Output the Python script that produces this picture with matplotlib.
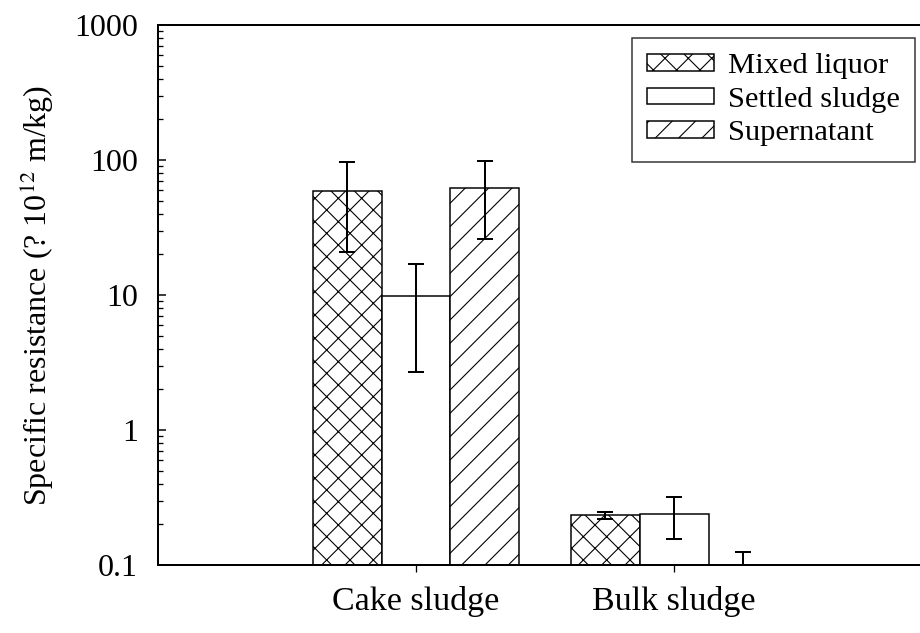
import matplotlib.pyplot as plt
import numpy as np

# data
groups = ["Cake sludge", "Bulk sludge"]
series = ["Mixed liquor", "Settled sludge", "Supernatant"]
mixed_liquor = [58.5, 0.234]
mixed_liquor_err = [37.8, 0.013]
settled_sludge = [9.9, 0.239]
settled_sludge_err = [7.2, 0.082]
supernatant = [62.0, 0.09]
supernatant_err = [36.0, 0.035]

# rendered at dpi 70 so the hatch spacing comes out like the reference;
# sizes below are given in pixels and converted to points
DPI = 70


def pt(px):
    return px * 72 / DPI


plt.rcParams["font.family"] = ["Liberation Serif", "DejaVu Serif"]
plt.rcParams["mathtext.fontset"] = "stix"
plt.rcParams["hatch.linewidth"] = pt(1.1)

fig = plt.figure(figsize=(920 / DPI, 633 / DPI), dpi=DPI)
ax = fig.add_axes([158 / 920, 68 / 633, 762 / 920, 540 / 633])

x = np.arange(len(groups))
w = 0.267
values = [mixed_liquor, settled_sludge, supernatant]
errors = [mixed_liquor_err, settled_sludge_err, supernatant_err]
hatches = ["x", "", "/"]

for i, (name, vals, errs, h) in enumerate(zip(series, values, errors, hatches)):
    pos = x + (i - 1) * w
    ax.bar(pos, vals, w, color="white", edgecolor="black", hatch=h,
           linewidth=pt(1.5), label=name, zorder=2)
    ax.errorbar(pos, vals, yerr=errs, fmt="none", ecolor="black",
                elinewidth=pt(2), capsize=pt(8.5), capthick=pt(2), zorder=3)

ax.set_yscale("log")
ax.set_ylim(0.1, 1000)
ax.set_xlim(-1, 1.953)
ax.set_yticks([0.1, 1, 10, 100, 1000])
ax.set_yticklabels(["0.1", "1", "10", "100", "1000"])
ax.set_xticks(x)
ax.set_xticklabels(groups)

ax.tick_params(axis="y", which="major", direction="in", length=pt(8),
               width=pt(1.5), labelsize=pt(32), pad=pt(20))
ax.tick_params(axis="y", which="minor", direction="in", length=pt(5),
               width=pt(1.3))
ax.tick_params(axis="x", direction="out", length=pt(7), width=pt(1.3),
               labelsize=pt(34), pad=pt(14))

for s in ["left", "top", "bottom"]:
    ax.spines[s].set_linewidth(pt(2))
ax.spines["right"].set_visible(False)

ax.set_ylabel("Specific resistance (? 10$^{12}$ m/kg)", fontsize=pt(32),
              labelpad=pt(18))

leg = ax.legend(loc="upper right", bbox_to_anchor=(0.9934, 0.976),
                fontsize=pt(30.5), frameon=True, fancybox=False,
                edgecolor="black", handlelength=2.2, handleheight=0.47,
                handletextpad=0.45, labelspacing=0.25, borderpad=0.5,
                borderaxespad=0)
leg.get_frame().set_linewidth(pt(1.5))

plt.savefig("out.png", dpi=DPI)
